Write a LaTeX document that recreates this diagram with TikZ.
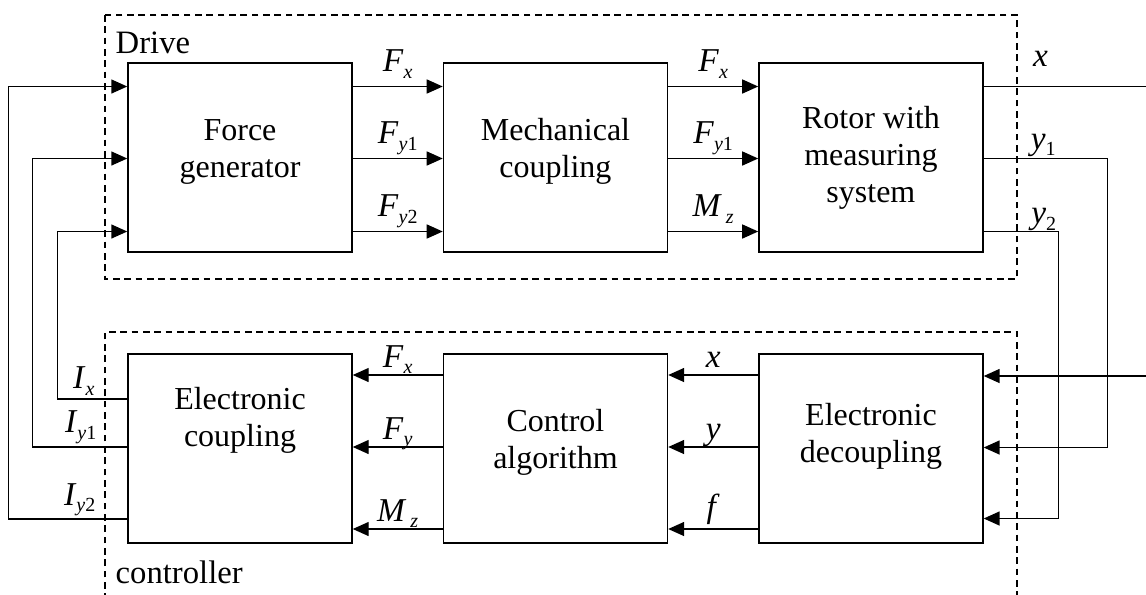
\documentclass[tikz,border=0pt]{standalone}
\usepackage{fontspec}
\setmainfont{Liberation Serif}
\usepackage{tikz}
\usetikzlibrary{arrows.meta,
positioning,
calc}

\newcommand{\sig}[2]{\textit{#1}\raisebox{-5pt}{\fontsize{15pt}{15pt}\selectfont #2}}

\begin{document}
\begin{tikzpicture}[
    x=0.75pt, y=-0.75pt,
    node distance=67.5pt,
    >={Triangle[length=12pt,width=10.5pt]},
    line width=1.1pt,
    box/.style={
        draw,
        align=center,
        minimum width=168pt,
        minimum height=141.75pt,
        font=\fontsize{24pt}{27.75pt}\selectfont
    },
    lab/.style={
        font=\fontsize{25pt}{28pt}\selectfont,
        inner sep=0pt,
        anchor=base
    },
    labtop/.style={lab, yshift=11pt},
    lablow/.style={lab, yshift=6pt},
    dashbox/.style={line width=0.9pt, dash pattern=on 5pt off 3.5pt}
]
\useasboundingbox (0,0) rectangle (1146,594);

% the two groups
\draw[dashbox] (105,15) rectangle (1017,279);
\draw[dashbox] (105,600) |- (1017,332) -- (1017,600);
\node[anchor=base west, inner sep=0pt, font=\fontsize{24.5pt}{28pt}\selectfont] (drive) at (115,53) {Drive};
\node[anchor=base west, inner sep=0pt, font=\fontsize{24.5pt}{28pt}\selectfont] (controller) at (115,583) {controller};

\node[box, text depth=14pt] (force) at (240,157.5) {Force\\generator};

\node[box, text depth=14pt, right=of force] (mech) {Mechanical\\coupling};

\node[box, right=of mech] (rotor) {Rotor with\\measuring\\system};

\node[box, text depth=48pt] (ecoup) at (240,448.5) {Electronic\\coupling};

\node[box, text depth=14pt, right=of ecoup] (ctrl) {Control\\algorithm};

\node[box, text depth=23pt, right=of ctrl] (decoup) {Electronic\\decoupling};

\coordinate (xout) at (1146,86.5);
\coordinate (xin) at (1146,376);

% drive
\draw[->] ($(force.east)+(0,-71)$) -- node[labtop] (fx1) {\sig{F}{\textit{x}}} ($(mech.west)+(0,-71)$);
\draw[->] ($(force.east)+(0,1)$) -- node[labtop] (fy1) {\sig{F}{\textit{y}1}} ($(mech.west)+(0,1)$);
\draw[->] ($(force.east)+(0,74)$) -- node[labtop] (fy2) {\sig{F}{\textit{y}2}} ($(mech.west)+(0,74)$);

\draw[->] ($(mech.east)+(0,-71)$) -- node[labtop] (fx2) {\sig{F}{\textit{x}}} ($(rotor.west)+(0,-71)$);
\draw[->] ($(mech.east)+(0,1)$) -- node[labtop] (fy3) {\sig{F}{\textit{y}1}} ($(rotor.west)+(0,1)$);
\draw[->] ($(mech.east)+(0,74)$) -- node[labtop] (mz1) {\sig{M}{\kern3pt\textit{z}}} ($(rotor.west)+(0,74)$);

% measured signals
\draw ($(rotor.east)+(0,-71)$) -- node[lab, pos=0.35, yshift=15pt] (xo) {\textit{x}} (xout);
\draw[->] ($(rotor.east)+(0,1)$) -| node[lab, pos=0.24, yshift=7pt] (y1o) {\sig{y}{1}} ($(decoup.east)+(124,-1)$) -- ($(decoup.east)+(0,-1)$);
\draw[->] ($(rotor.east)+(0,74)$) -| node[lab, pos=0.4, yshift=6pt] (y2o) {\sig{y}{2}} ($(decoup.east)+(75,70)$) -- ($(decoup.east)+(0,70)$);
\draw[->] (xin) -- ($(decoup.east)+(0,-72.5)$);

% controller
\draw[->] ($(decoup.west)+(0,-73.5)$) -- node[lablow] (xc) {\textit{x}} ($(ctrl.east)+(0,-73.5)$);
\draw[->] ($(decoup.west)+(0,-1.5)$) -- node[lablow] (yc) {\textit{y}} ($(ctrl.east)+(0,-1.5)$);
\draw[->] ($(decoup.west)+(0,80.5)$) -- node[lab, yshift=9pt] (fc) {\textit{f}} ($(ctrl.east)+(0,80.5)$);

\draw[->] ($(ctrl.west)+(0,-73.5)$) -- node[lablow] (fx3) {\sig{F}{\textit{x}}} ($(ecoup.east)+(0,-73.5)$);
\draw[->] ($(ctrl.west)+(0,-1.5)$) -- node[lablow] (fy4) {\sig{F}{\textit{y}}} ($(ecoup.east)+(0,-1.5)$);
\draw[->] ($(ctrl.west)+(0,80.5)$) -- node[lablow] (mz2) {\sig{M}{\kern3pt\textit{z}}} ($(ecoup.east)+(0,80.5)$);

% currents back to the drive
\draw[->] ($(ecoup.west)+(0,-49.5)$) -| node[lab, pos=0.31, yshift=8pt] (ix) {\sig{I}{\textit{x}}} ($(force.west)+(-70,74)$) -- ($(force.west)+(0,74)$);
\draw[->] ($(ecoup.west)+(0,-1.5)$) -| node[lab, pos=0.245, yshift=11pt] (iy1) {\sig{I}{\textit{y}1}} ($(force.west)+(-95,1)$) -- ($(force.west)+(0,1)$);
\draw[->] ($(ecoup.west)+(0,70.5)$) -| node[lab, pos=0.2, yshift=10.5pt] (iy2) {\sig{I}{\textit{y}2}} ($(force.west)+(-119,-71)$) -- ($(force.west)+(0,-71)$);

\end{tikzpicture}
\end{document}
